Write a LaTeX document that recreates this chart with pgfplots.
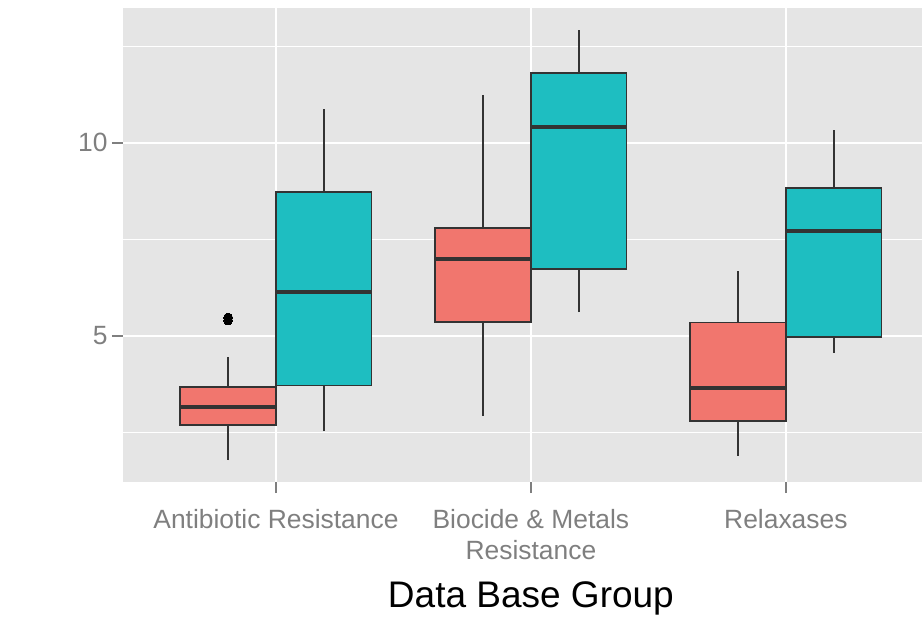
\documentclass[border=0pt]{standalone}
\usepackage{fontspec}
\setmainfont{Liberation Sans}
\usepackage{pgfplots}
\pgfplotsset{compat=1.18}
\usepgfplotslibrary{statistics}

\definecolor{panelgray}{RGB}{229,229,229}
\definecolor{labgray}{RGB}{127,127,127}
\definecolor{boxred}{RGB}{241,118,110}
\definecolor{boxteal}{RGB}{30,190,193}
\definecolor{edge}{RGB}{51,51,51}

\pgfplotsset{
  ggbox/.style={
    draw=edge, line width=0.9pt,
    mark=*, mark size=2.2pt, mark options={fill=black, draw=black, line width=0pt},
    boxplot/draw direction=y,
    boxplot/box extend=0.375,
    boxplot/whisker extend=0,
    boxplot/every median/.style={line width=2pt},
  },
}

\begin{document}
\begin{tikzpicture}
\useasboundingbox (-61.5pt,-70.5pt) rectangle (399.5pt,241pt);
\begin{axis}[
  at={(0pt,0pt)}, anchor=south west,
  scale only axis, width=399.5pt, height=237pt,
  xmin=0.4, xmax=3.534, ymin=1.22, ymax=13.49,
  axis background/.style={fill=panelgray},
  axis x line*=bottom, axis y line*=left,
  axis line style={draw=none},
  tick align=outside,
  major tick length=5.5pt, minor tick length=0pt,
  tick style={labgray, line width=0.9pt},
  xtick={1,2,3},
  xticklabels={Antibiotic Resistance, {Biocide \& Metals\\Resistance}, Relaxases},
  ytick={5,10},
  minor ytick={2.5,7.5,12.5},
  xmajorgrids, ymajorgrids, yminorgrids,
  major grid style={white, line width=1.1pt},
  minor grid style={white, line width=0.5pt},
  /pgf/number format/assume math mode=true,
  ticklabel style={font=\fontsize{13.2}{15.6}\selectfont, text=labgray},
  xticklabel style={align=center, yshift=-4.5pt},
  yticklabel style={inner sep=2pt},
  xlabel={Data Base Group},
  xlabel style={at={(axis cs:2,1.22)}, anchor=base, yshift=-62.5pt,
    font=\fontsize{18.5}{22}\selectfont, text=black},
]
% Antibiotic Resistance
\addplot[ggbox, fill=boxred, boxplot prepared={draw position=0.8125,
  lower whisker=1.78, lower quartile=2.69, median=3.16,
  upper quartile=3.68, upper whisker=4.46}]
  coordinates {(0,5.40) (0,5.48)};
\addplot[ggbox, fill=boxteal, boxplot prepared={draw position=1.1875,
  lower whisker=2.53, lower quartile=3.72, median=6.14,
  upper quartile=8.72, upper whisker=10.87}]
  coordinates {};
% Biocide & Metals Resistance
\addplot[ggbox, fill=boxred, boxplot prepared={draw position=1.8125,
  lower whisker=2.93, lower quartile=5.36, median=6.98,
  upper quartile=7.79, upper whisker=11.24}]
  coordinates {};
\addplot[ggbox, fill=boxteal, boxplot prepared={draw position=2.1875,
  lower whisker=5.61, lower quartile=6.74, median=10.41,
  upper quartile=11.81, upper whisker=12.92}]
  coordinates {};
% Relaxases
\addplot[ggbox, fill=boxred, boxplot prepared={draw position=2.8125,
  lower whisker=1.90, lower quartile=2.80, median=3.66,
  upper quartile=5.35, upper whisker=6.68}]
  coordinates {};
\addplot[ggbox, fill=boxteal, boxplot prepared={draw position=3.1875,
  lower whisker=4.56, lower quartile=4.97, median=7.71,
  upper quartile=8.84, upper whisker=10.33}]
  coordinates {};
\end{axis}
\end{tikzpicture}
\end{document}
